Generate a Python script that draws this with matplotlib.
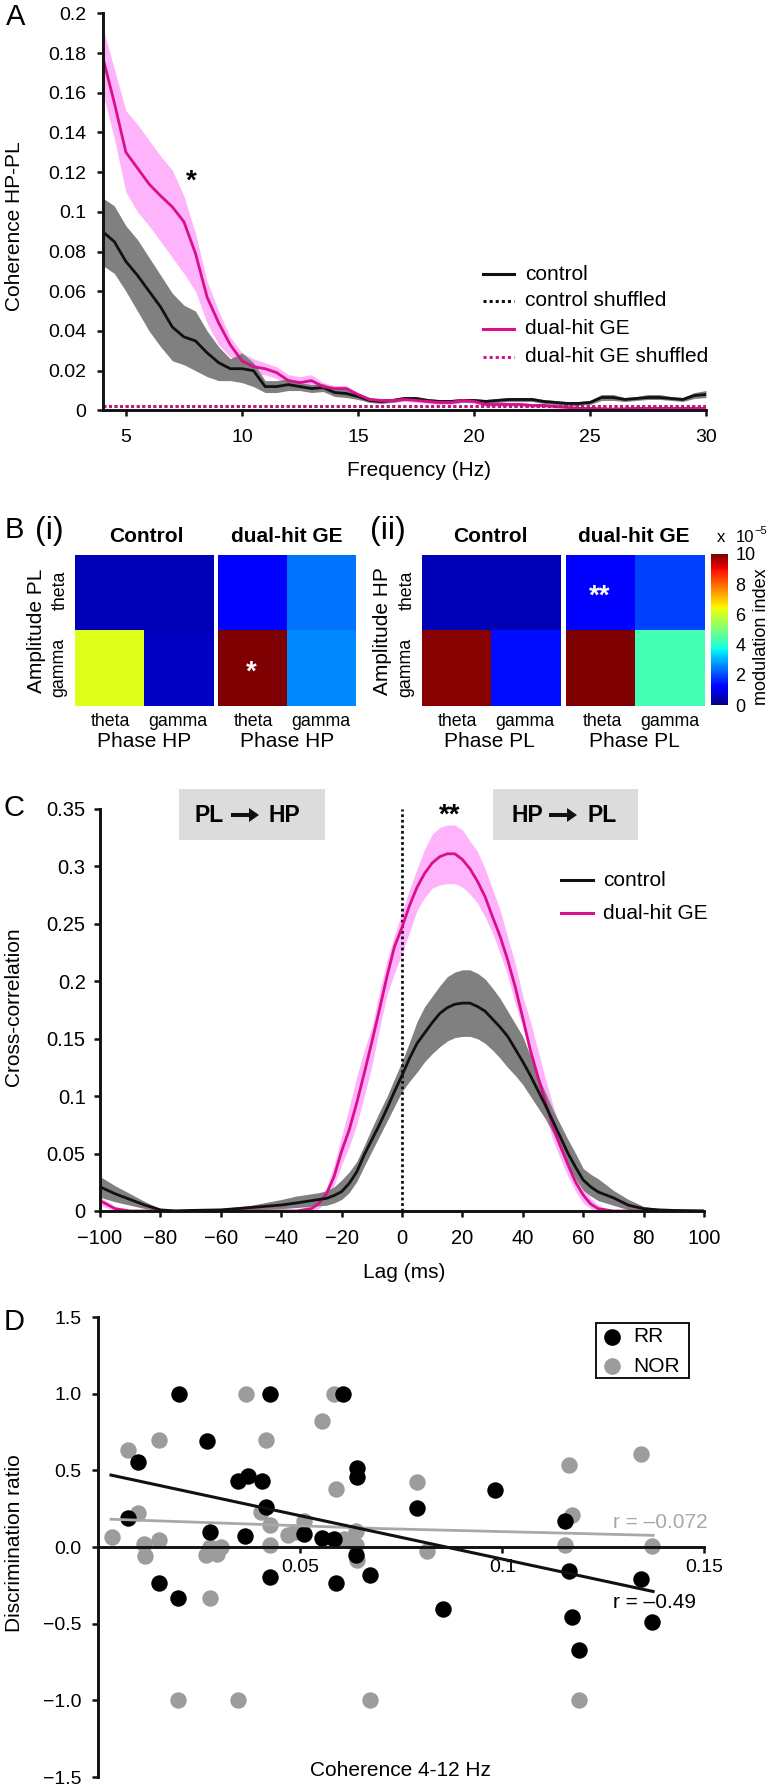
import matplotlib
matplotlib.use('Agg')
import matplotlib.pyplot as plt
from matplotlib.cm import ScalarMappable
from matplotlib.colors import Normalize
from matplotlib.lines import Line2D
from matplotlib.patches import FancyArrow, Rectangle

plt.rcParams['font.family'] = ['Liberation Sans', 'DejaVu Sans']

W, H = 770, 1788
BLACK = '#111111'
PINK = '#D8108C'
PINK_BAND = '#FFB3FA'
GREY_BAND = '#808080'
DOT_GREY = '#9C9C9C'

# panel A, coherence
freq = [4, 4.5, 5, 5.5, 6, 6.5, 7, 7.5, 8, 8.5,
        9, 9.5, 10, 10.5, 11, 11.5, 12, 12.5, 13, 13.5,
        14, 14.5, 15, 15.5, 16, 16.5, 17, 17.5, 18, 18.5,
        19, 19.5, 20, 20.5, 21, 21.5, 22, 22.5, 23, 23.5,
        24, 24.5, 25, 25.5, 26, 26.5, 27, 27.5, 28, 28.5,
        29, 29.5, 30]
coh_control = [.09, .085, .075, .068, .06, .052, .042, .037, .035, .029,
               .024, .021, .021, .02, .012, .012, .013, .012, .011, .0115,
               .009, .0085, .007, .005, .0045, .005, .006, .006, .005, .0045,
               .0045, .005, .005, .0045, .005, .0055, .0055, .0055, .0045, .004,
               .0035, .0035, .004, .0065, .0065, .0055, .006, .0065, .0065, .006,
               .0055, .0075, .008]
coh_control_hi = [.107, .103, .093, .086, .077, .068, .059, .053, .05, .04,
                  .032, .026, .029, .024, .015, .015, .016, .014, .013, .0135,
                  .011, .0105, .0085, .0065, .0055, .006, .007, .007, .006, .0055,
                  .0055, .006, .006, .0055, .006, .0065, .0065, .0065, .0055, .005,
                  .0045, .0045, .005, .008, .008, .0065, .007, .008, .008, .007,
                  .0065, .009, .01]
coh_control_lo = [.073, .069, .06, .05, .04, .032, .025, .023, .02, .017,
                  .015, .015, .014, .012, .009, .009, .01, .01, .009, .0095,
                  .007, .0065, .0055, .004, .0035, .004, .005, .005, .004, .0035,
                  .0035, .004, .004, .0035, .004, .0045, .0045, .0045, .0035, .003,
                  .0025, .0025, .003, .005, .005, .0045, .005, .0055, .0055, .005,
                  .0045, .006, .0065]
coh_dual = [.178, .155, .130, .122, .114, .108, .1025, .095, .079, .057,
            .044, .033, .025, .022, .021, .019, .015, .014, .015, .012,
            .011, .011, .008, .0055, .005, .005, .0055, .005, .0045, .004,
            .004, .005, .0045, .003, .003, .003, .003, .0025, .0025, .002,
            .0015, .001, .001, .0008, .0006, .0008, .001, .001, .001, .001,
            .001, .001, .001]
coh_dual_hi = [.193, .172, .151, .144, .136, .128, .121, .108, .089, .065,
               .05, .037, .029, .026, .024, .022, .018, .017, .018, .014,
               .0125, .0125, .009, .0065, .006, .006, .0065, .006, .0055, .005,
               .005, .006, .0055, .004, .004, .004, .004, .0035, .0035, .003,
               .0025, .002, .002, .0018, .0016, .0018, .002, .002, .002, .002,
               .002, .002, .002]
coh_dual_lo = [.16, .137, .11, .10, .093, .085, .077, .069, .06, .044,
               .033, .027, .021, .018, .018, .016, .012, .011, .012, .01,
               .0095, .0095, .007, .0045, .004, .004, .0045, .004, .0035, .003,
               .003, .004, .0035, .002, .002, .002, .002, .0015, .0015, .001,
               .0005, 0, 0, 0, 0, 0, 0, 0, 0, 0,
               0, 0, 0]
shuffled_level = [.002, .002]
shuffled_freq = [4, 30]
a_yticks = [0, .02, .04, .06, .08, .1, .12, .14, .16, .18, .2]
a_ylabels = ['0', '0.02', '0.04', '0.06', '0.08', '0.1', '0.12', '0.14', '0.16', '0.18', '0.2']
a_xticks = [5, 10, 15, 20, 25, 30]
a_legend = ['control', 'control shuffled', 'dual-hit GE', 'dual-hit GE shuffled']

# panel B, modulation index, rows are theta then gamma
mi_i_control = [[.5, .5], [6.2, .6]]
mi_i_dual = [[1.1, 2.4], [10, 2.6]]
mi_ii_control = [[.5, .5], [9.9, 1.4]]
mi_ii_dual = [[1.1, 1.9], [10, 4.3]]
cbar_ticks = [0, 2, 4, 6, 8, 10]

# panel C, cross-correlation
lag = [-100, -95, -90, -85, -80, -75, -70, -60, -50, -40,
       -35, -30, -27.5, -25, -22.5, -20, -17.5, -15, -12.5, -10,
       -7.5, -5, -2.5, 0, 2.5, 5, 7.5, 10, 12.5, 15,
       17.5, 20, 22.5, 25, 27.5, 30, 32.5, 35, 37.5, 40,
       42.5, 45, 47.5, 50, 52.5, 55, 57.5, 60, 62.5, 65,
       70, 75, 80, 85, 90, 100]
cc_control = [.021, .015, .01, .005, .001, 0, .0005, .001, .003, .0052,
              .007, .009, .01, .011, .0135, .0168, .024, .034, .049, .062,
              .075, .089, .104, .118, .133, .146, .155, .164, .172, .177,
              .18, .181, .181, .178, .174, .167, .16, .152, .141, .13,
              .118, .105, .092, .078, .064, .05, .038, .027, .021, .0165,
              .0115, .005, .002, .001, .0005, 0]
cc_control_hi = [.03, .022, .015, .008, .002, .0005, .001, .002, .005, .01,
                 .013, .015, .016, .0177, .021, .027, .034, .043, .057, .072,
                 .086, .0995, .115, .13, .147, .165, .178, .187, .196, .204,
                 .208, .21, .21, .207, .202, .194, .185, .174, .163, .152,
                 .135, .118, .103, .088, .075, .062, .05, .037, .032, .028,
                 .018, .01, .004, .002, .001, 0]
cc_control_lo = [.012, .008, .005, .002, 0, 0, 0, 0, .001, .002,
                 .003, .004, .0045, .005, .007, .01, .016, .0255, .039, .052,
                 .065, .078, .091, .104, .113, .121, .13, .137, .143, .148,
                 .151, .152, .152, .15, .146, .14, .133, .125, .118, .11,
                 .1, .09, .08, .068, .054, .04, .028, .018, .013, .009,
                 .005, .001, 0, 0, 0, 0]
cc_dual = [.009, .002, 0, 0, 0, 0, 0, 0, 0, 0,
           0, .002, .0067, .015, .03, .052, .0705, .094, .12, .147,
           .175, .204, .23, .247, .266, .282, .294, .303, .3085, .311,
           .311, .306, .298, .287, .2737, .256, .239, .2185, .195, .168,
           .14, .117, .095, .073, .056, .04, .025, .014, .006, .002,
           0, 0, 0, 0, 0, 0]
cc_dual_hi = [.012, .004, 0, 0, 0, 0, 0, 0, 0, 0,
              .001, .005, .012, .02, .04, .065, .09, .117, .14, .16,
              .19, .218, .24, .26, .28, .298, .315, .328, .334, .336,
              .336, .332, .322, .313, .298, .28, .262, .238, .2156, .187,
              .165, .14, .115, .092, .07, .052, .035, .022, .011, .005,
              0, 0, 0, 0, 0, 0]
cc_dual_lo = [.005, 0, 0, 0, 0, 0, 0, 0, 0, 0,
              0, 0, .002, .01, .022, .04, .056, .075, .1, .126,
              .158, .188, .207, .224, .243, .262, .273, .281, .284, .285,
              .285, .282, .276, .268, .256, .242, .224, .205, .18, .16,
              .135, .105, .083, .062, .045, .03, .017, .007, .002, 0,
              0, 0, 0, 0, 0, 0]
c_yticks = [0, .05, .1, .15, .2, .25, .3, .35]
c_ylabels = ['0', '0.05', '0.1', '0.15', '0.2', '0.25', '0.3', '0.35']
c_xticks = [-100, -80, -60, -40, -20, 0, 20, 40, 60, 80, 100]
c_xlabels = ['\u2212100', '\u221280', '\u221260', '\u221240', '\u221220', '0', '20', '40', '60', '80', '100']

# panel D, scatter
rr_x = [.0099, .0200, .0268, .0424, .0605, .0346, .0370, .0405, .0415, .0639, .0639,
        .0073, .0277, .0363, .0509, .0554, .0584, .0789, .0981, .1155, .0638, .0673,
        .0588, .0424, .0149, .0198, .0853, .1165, .1344, .1172, .1371, .1190]
rr_y = [.557, 1.0, .692, 1.0, 1.0, .43, .463, .428, .262, .513, .459,
        .188, .096, .07, .083, .057, .052, .255, .369, .17, -.05, -.183,
        -.234, -.197, -.236, -.334, -.404, -.157, -.21, -.454, -.491, -.672]
nor_x = [.0033, .0073, .0099, .0112, .0115, .0149, .0149, .0198, .0266, .0277, .0277, .0293, .0304,
         .0346, .0366, .0403, .0415, .0424, .0424, .047, .0486, .0509, .0553, .0584, .0588, .0608,
         .0638, .0638, .0641, .0673, .0789, .0813, .1155, .1165, .1172, .119, .1344, .1371]
nor_y = [.066, .633, .225, .022, -.061, .699, .044, -1.0, -.055, 0, -.332, -.048, 0,
         -1.0, 1.0, .229, .70, .146, .015, .081, .098, .17, .821, 1.0, .378, .055,
         .105, .011, -.083, -1.0, .421, -.028, .011, .535, .207, -1.0, .607, .004]
rr_fit_x = [.0031, .1373]
rr_fit_y = [.469, -.29]
nor_fit_x = [.0031, .07, .1373]
nor_fit_y = [.181, .12, .076]
d_yticks = [-1.5, -1, -.5, 0, .5, 1, 1.5]
d_ylabels = ['\u22121.5', '\u22121.0', '\u22120.5', '0.0', '0.5', '1.0', '1.5']
d_xticks = [.05, .1, .15]
d_xlabels = ['0.05', '0.1', '0.15']


def ax_px(l, t, r, b):
    return fig.add_axes([l / W, 1 - b / H, (r - l) / W, (b - t) / H])


def txt(x, y, s, size=15, ha='center', va='center', **kw):
    fig.text(x / W, 1 - y / H, s, fontsize=size, ha=ha, va=va, **kw)


def legend_line(x0, x1, y, **kw):
    fig.add_artist(Line2D([x0 / W, x1 / W], [1 - y / H, 1 - y / H], **kw))


def style_axes(ax, pad_x, pad_y, size=14):
    ax.spines[['top', 'right']].set_visible(False)
    ax.spines[['left', 'bottom']].set_linewidth(2.1)
    ax.spines[['left', 'bottom']].set_color(BLACK)
    ax.tick_params(axis='x', width=1.8, length=4.3, pad=pad_x, labelsize=size, color=BLACK)
    ax.tick_params(axis='y', width=1.8, length=4.3, pad=pad_y, labelsize=size, color=BLACK)
    ax.patch.set_alpha(0)


fig = plt.figure(figsize=(W / 100, H / 100), dpi=100)

# A
ax = ax_px(102.7, 13.3, 706, 410.4)
ax.fill_between(freq, coh_dual_lo, coh_dual_hi, color=PINK_BAND, lw=0)
ax.fill_between(freq, coh_control_lo, coh_control_hi, color=GREY_BAND, lw=0)
ax.plot(freq, coh_control, color=BLACK, lw=2)
ax.plot(freq, coh_dual, color=PINK, lw=2)
ax.plot(shuffled_freq, shuffled_level, color=BLACK, lw=2, ls=(0, (1, 1)))
ax.plot(shuffled_freq, shuffled_level, color=PINK, lw=2, ls=(0, (1, 1)))
ax.set_xlim(4, 30)
ax.set_ylim(0, .2)
ax.set_xticks(a_xticks)
ax.set_yticks(a_yticks, a_ylabels)
style_axes(ax, 9, 7.5)
txt(15, 226, 'Coherence HP-PL', rotation=90)
txt(419, 470, 'Frequency (Hz)')
txt(191, 182, '*', size=20, fontweight='bold')
txt(16, 17, 'A', size=21)
legend_ys = [274, 300.7, 329, 357]
legend_styles = [(BLACK, '-'), (BLACK, (0, (1, 1))), (PINK, '-'), (PINK, (0, (1, 1)))]
for label, ly, (col, ls) in zip(a_legend, legend_ys, legend_styles):
    legend_line(483, 514, ly, color=col, lw=2.2, ls=ls)
    txt(525, ly, label, ha='left')

# B
heat_boxes = [(75, 213, mi_i_control), (218, 356, mi_i_dual),
              (422, 560, mi_ii_control), (566, 704, mi_ii_dual)]
for l, r, vals in heat_boxes:
    ax = ax_px(l, 555, r, 705.5)
    ax.imshow(vals, cmap='jet', vmin=0, vmax=10, aspect='auto', interpolation='nearest')
    ax.axis('off')
cax = ax_px(711, 554, 727.5, 705)
cb = fig.colorbar(ScalarMappable(Normalize(0, 10), cmap='jet'), cax=cax, ticks=cbar_ticks)
cb.outline.set_visible(False)
cax.tick_params(length=0, pad=5.5, labelsize=13)

for xc, s in [(146, 'Control'), (287, 'dual-hit GE'), (490, 'Control'), (634, 'dual-hit GE')]:
    txt(xc, 537, s, fontweight='bold')
for xc, s in [(110, 'theta'), (178, 'gamma'), (253, 'theta'), (321, 'gamma'),
              (457, 'theta'), (525, 'gamma'), (602, 'theta'), (670, 'gamma')]:
    txt(xc, 722, s, size=12.8)
for xc, s in [(144, 'Phase HP'), (287, 'Phase HP'), (489, 'Phase PL'), (634, 'Phase PL')]:
    txt(xc, 741.5, s)
txt(37, 631, 'Amplitude PL', rotation=90)
txt(383, 631, 'Amplitude HP', rotation=90)
for xc in (60, 407):
    txt(xc, 590, 'theta', size=12.8, rotation=90)
    txt(xc - 1, 667, 'gamma', size=12.8, rotation=90)
txt(251, 673, '*', size=20, color='white', fontweight='bold')
txt(600, 597, '**', size=20, color='white', fontweight='bold')
txt(14, 530, 'B', size=21)
txt(49, 531, '(i)', size=23)
txt(388, 531, '(ii)', size=23)
txt(721, 538, 'x', size=12)
txt(736, 537, '10', size=12, ha='left')
txt(754, 531, '\u22125', size=8, ha='left')
txt(761, 637, 'modulation index', size=13, rotation=90)

# C
ax = ax_px(100, 809, 704, 1211)
ax.fill_between(lag, cc_dual_lo, cc_dual_hi, color=PINK_BAND, lw=0)
ax.fill_between(lag, cc_control_lo, cc_control_hi, color=GREY_BAND, lw=0)
ax.plot([0, 0], [0, .35], color=BLACK, lw=2, ls=(0, (1, 1)))
ax.plot(lag, cc_dual, color=PINK, lw=2)
ax.plot(lag, cc_control, color=BLACK, lw=2)
ax.set_xlim(-100, 100)
ax.set_ylim(0, .35)
ax.set_xticks(c_xticks, c_xlabels)
ax.set_yticks(c_yticks, c_ylabels)
style_axes(ax, 9, 6, 14.5)
for l, r in [(179, 325), (493, 638)]:
    fig.add_artist(Rectangle((l / W, 1 - 840 / H), (r - l) / W, 51 / H, color='#DCDCDC', lw=0,
                             zorder=-1))
for x_l, x_r, x0, x1, s_l, s_r in [(209, 284, 231, 259, 'PL', 'HP'), (527, 602, 549, 577, 'HP', 'PL')]:
    txt(x_l, 815, s_l, fontweight='bold', size=16.5)
    txt(x_r, 815, s_r, fontweight='bold', size=16.5)
    fig.add_artist(FancyArrow(
        x0 / W, 1 - 815 / H, (x1 - x0) / W, 0, width=4 / H, head_width=14 / H, head_length=10 / W,
        length_includes_head=True, color=BLACK, lw=0))
txt(450, 816, '**', size=20, fontweight='bold')
txt(14, 808, 'C', size=21)
txt(14, 1007, 'Cross-correlation', rotation=90)
txt(404, 1272, 'Lag (ms)')
legend_line(561, 593, 880, color=BLACK, lw=2.2)
legend_line(561, 593, 913, color=PINK, lw=2.2)
txt(603, 880, 'control', ha='left')
txt(603, 913, 'dual-hit GE', ha='left')

# D
ax = ax_px(98.5, 1317, 704.4, 1777)
ax.scatter(nor_x, nor_y, s=140, color=DOT_GREY, lw=0, zorder=2, clip_on=False)
ax.scatter(rr_x, rr_y, s=140, color='black', lw=0, zorder=2.1, clip_on=False)
ax.plot(nor_fit_x, nor_fit_y, color='#A8A8A8', lw=2, zorder=3)
ax.plot(rr_fit_x, rr_fit_y, color=BLACK, lw=2.2, zorder=3)
ax.set_xlim(0, .15)
ax.set_ylim(-1.5, 1.5)
ax.spines['bottom'].set_position(('data', 0))
ax.set_xticks(d_xticks, d_xlabels)
ax.set_yticks(d_yticks, d_ylabels)
style_axes(ax, 4, 8)
fig.add_artist(Rectangle((596 / W, 1 - 1378 / H), 93 / W, 55 / H, fill=False, ec=BLACK, lw=1.4))
fig.add_artist(Line2D([612 / W], [1 - 1337 / H], marker='o', ms=12, color='black', mew=0))
fig.add_artist(Line2D([612 / W], [1 - 1366 / H], marker='o', ms=12, color=DOT_GREY, mew=0))
txt(633, 1337, 'RR', ha='left')
txt(633, 1366, 'NOR', ha='left')
txt(613, 1522, 'r = \u20130.072', ha='left', color='#A8A8A8')
txt(613, 1603, 'r = \u20130.49', ha='left')
txt(14, 1322, 'D', size=21)
txt(15, 1543, 'Discrimination ratio', rotation=90)
txt(400, 1770, 'Coherence 4-12 Hz')

fig.savefig('out.png', dpi=100)
